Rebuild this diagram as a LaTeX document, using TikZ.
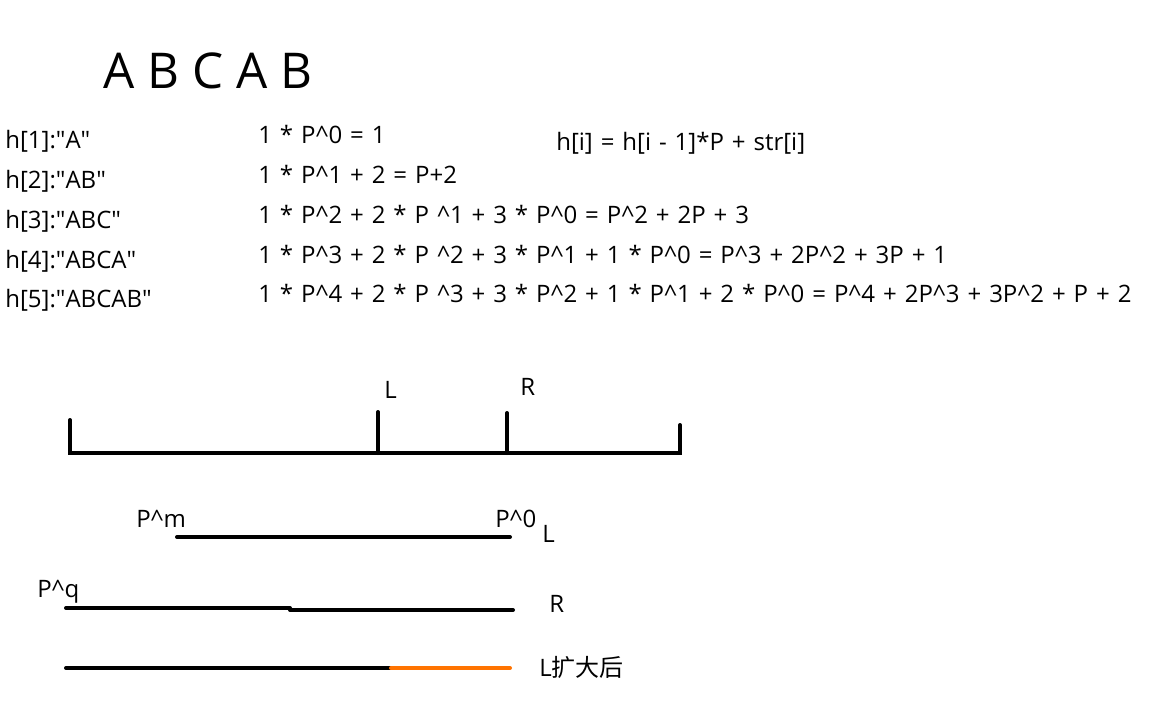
\documentclass[tikz,border=0pt]{standalone}
\usepackage{fontspec}
\setmainfont{Open Sans}
\newfontfamily\cjk{Noto Sans CJK SC}
\usepackage{tikz}

\newcommand{\rowfont}{\fontsize{18}{20}\selectfont\spaceskip=0.33em plus 0pt minus 0pt\relax}
\newcommand{\qt}{\textquotedbl}
\tikzset{
  txt/.style={anchor=base west, inner sep=0pt, font=\rowfont},
  seg/.style={line width=3pt, line cap=round}
}

\begin{document}
\begin{tikzpicture}[x=0.75pt, y=-0.75pt]
    \useasboundingbox (0,0) rectangle (1153,708);
    % string
    \node[anchor=base west, inner sep=0pt, font=\fontsize{37}{40}\selectfont] (str) at (103,88) {A B C A B};
    % prefix hashes
    \node[txt] (h1) at (5,148) {h[1]:\qt A\qt};
    \node[txt] (h2) at (5,188) {h[2]:\qt AB\qt};
    \node[txt] (h3) at (5,228) {h[3]:\qt ABC\qt};
    \node[txt] (h4) at (5,268) {h[4]:\qt ABCA\qt};
    \node[txt] (h5) at (5,307) {h[5]:\qt ABCAB\qt};
    \node[txt] (f1) at (258,143) {1 * P\^{}0 = 1};
    \node[txt] (f2) at (258,183) {1 * P\^{}1 + 2 = P+2};
    \node[txt] (f3) at (258,223) {1 * P\^{}2 + 2 * P \^{}1 + 3 * P\^{}0 = P\^{}2 + 2P + 3};
    \node[txt] (f4) at (258,263) {1 * P\^{}3 + 2 * P \^{}2 + 3 * P\^{}1 + 1 * P\^{}0 = P\^{}3 + 2P\^{}2 + 3P + 1};
    \node[txt] (f5) at (258,302) {1 * P\^{}4 + 2 * P \^{}3 + 3 * P\^{}2 + 1 * P\^{}1 + 2 * P\^{}0 = P\^{}4 + 2P\^{}3 + 3P\^{}2 + P + 2};
    \node[txt] (rec) at (556,150) {h[i] = h[i - 1]*P + str[i]};
    % whole range with L and R
    \draw[seg] (70,420) -- (70,453) -- (680,453) -- (680,425);
    \draw[seg] (378,412) -- (378,453);
    \draw[seg] (507,413) -- (507,453);
    \node[txt] (tl) at (384,398) {L};
    \node[txt] (tr) at (520,395) {R};
    % hash of L
    \draw[seg] (177,537) -- (510,537);
    \node[txt] (pm) at (136,527) {P\^{}m};
    \node[txt] (p0) at (495,527) {P\^{}0};
    \node[txt] (sl) at (542,542) {L};
    % hash of R
    \draw[seg] (66,608) -- (290,608);
    \draw[seg] (290,610) -- (513,610);
    \node[txt] (pq) at (37,597) {P\^{}q};
    \node[txt] (sr) at (549,612) {R};
    % L shifted
    \draw[seg] (66,668) -- (391,668);
    \draw[seg, orange!90!red] (391,668) -- (510,668);
    \node[txt] (ls) at (539,676) {L{\cjk 扩大后}};
\end{tikzpicture}
\end{document}
